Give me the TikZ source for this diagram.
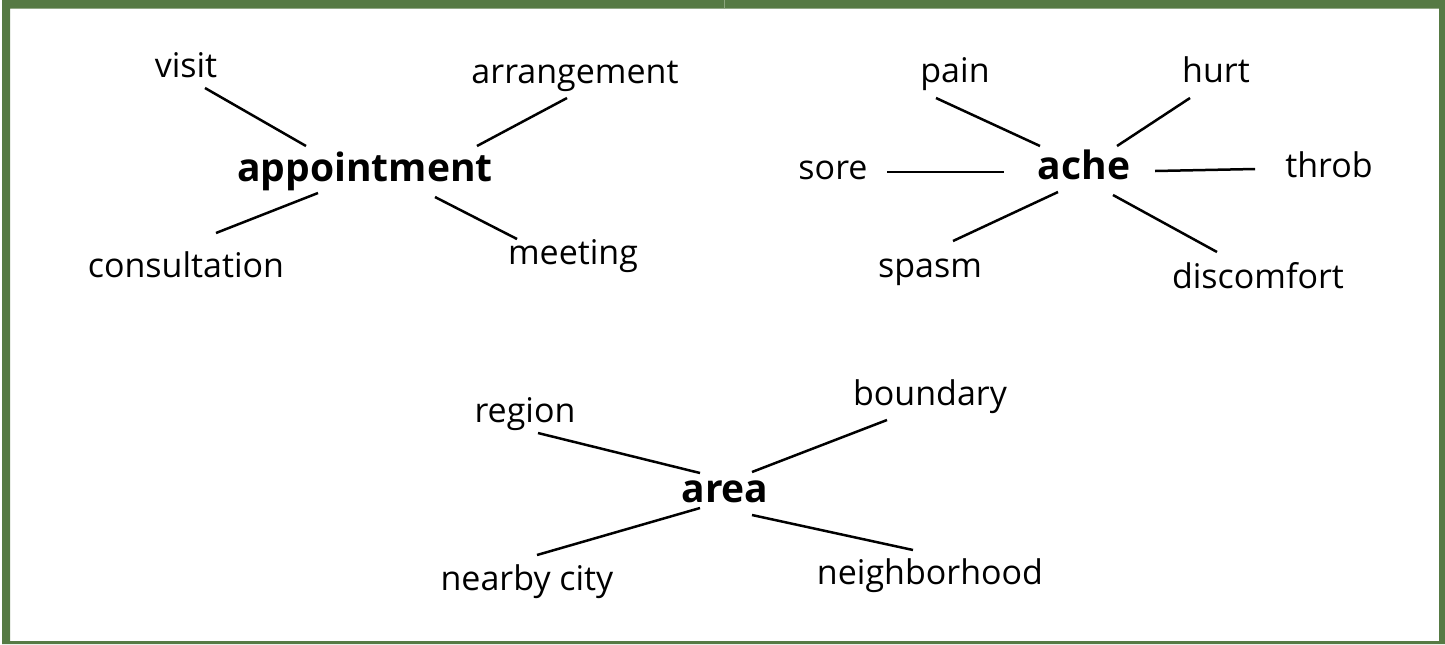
\documentclass[tikz,border=0pt]{standalone}
\usepackage{fontspec}
\setmainfont{Open Sans}
\definecolor{framegreen}{RGB}{86,122,68}
\definecolor{framelight}{RGB}{140,165,125}
\tikzset{
  word/.style={inner sep=0pt, text depth=0pt, font=\fontsize{17}{20}\selectfont},
  hub/.style={inner sep=0pt, text depth=0pt, font=\fontsize{19.5}{23}\selectfont\bfseries},
  link/.style={line width=1.25pt, black},
}
\begin{document}
\begin{tikzpicture}[x=0.5pt,y=-0.5pt]
\useasboundingbox (0,0) rectangle (1445,644);
\fill[framegreen,even odd rule] (2,0) rectangle (1445,644) (10,8.5) rectangle (1439,641);
\draw[framelight, line width=0.5pt] (724,0) -- (724,8.5);
% appointment cluster
\node[hub]  (appt) at (365,167) {appointment};
\node[word] (visit) at (186,65) {visit};
\node[word] (arr) at (575,72) {arrangement};
\node[word] (cons) at (186,265) {consultation};
\node[word] (meet) at (573,252) {meeting};
\draw[link] ([shift={(19,23)}]visit.center) -- ([shift={(-59,-21)}]appt.center);
\draw[link] ([shift={(-8,26)}]arr.center) -- ([shift={(112,-21)}]appt.center);
\draw[link] ([shift={(30,-32)}]cons.center) -- ([shift={(-47,26)}]appt.center);
\draw[link] ([shift={(-56,-13)}]meet.center) -- ([shift={(70,30)}]appt.center);
% ache cluster
\node[hub]  (ache) at (1084,165) {ache};
\node[word] (pain) at (955,70) {pain};
\node[word] (hurt) at (1216,70) {hurt};
\node[word] (sore) at (833,170) {sore};
\node[word] (throb) at (1329,165) {throb};
\node[word] (spasm) at (930,268) {spasm};
\node[word] (disc) at (1258,275) {discomfort};
\draw[link] ([shift={(-19,28)}]pain.center) -- ([shift={(-44,-19)}]ache.center);
\draw[link] ([shift={(-26,28)}]hurt.center) -- ([shift={(33,-19)}]ache.center);
\draw[link] ([shift={(54,2)}]sore.center) -- ([shift={(-80,7)}]ache.center);
\draw[link] ([shift={(-74,4)}]throb.center) -- ([shift={(71,6)}]ache.center);
\draw[link] ([shift={(23,-27)}]spasm.center) -- ([shift={(-26,27)}]ache.center);
\draw[link] ([shift={(-41,-23)}]disc.center) -- ([shift={(29,30)}]ache.center);
% area cluster
\node[hub]  (area) at (725,492) {area};
\node[word] (region) at (525,410) {region};
\node[word] (bound) at (930,393) {boundary};
\node[word] (city) at (527,578) {nearby city};
\node[word] (neigh) at (930,572) {neighborhood};
\draw[link] ([shift={(13,23)}]region.center) -- ([shift={(-25,-19)}]area.center);
\draw[link] ([shift={(-43,27)}]bound.center) -- ([shift={(27,-20)}]area.center);
\draw[link] ([shift={(10,-23)}]city.center) -- ([shift={(-25,16)}]area.center);
\draw[link] ([shift={(-17,-22)}]neigh.center) -- ([shift={(27,23)}]area.center);
\end{tikzpicture}
\end{document}
